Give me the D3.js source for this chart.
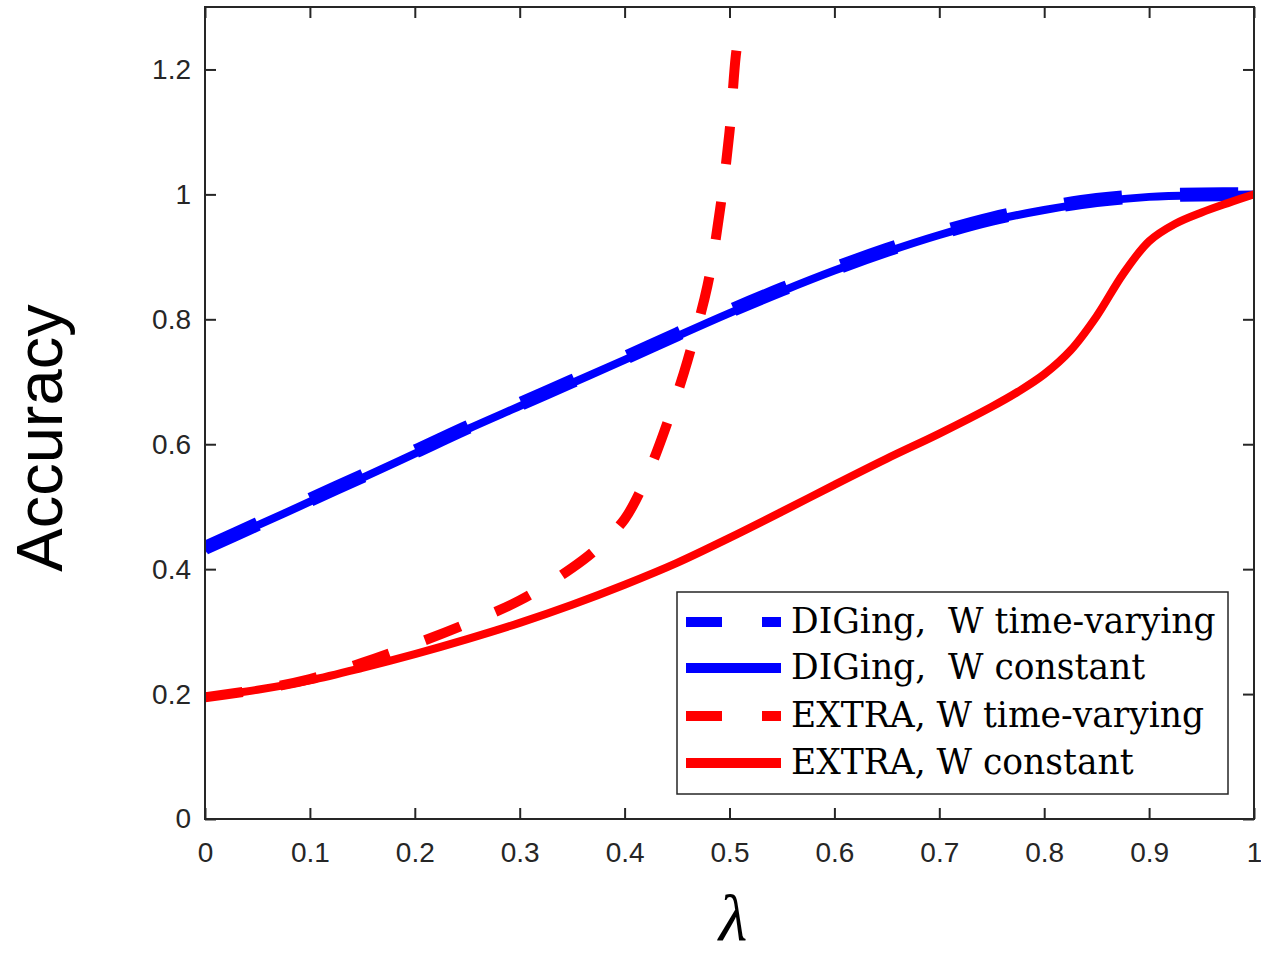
<!DOCTYPE html>
<html>
<head>
<meta charset="utf-8">
<script src="https://cdn.jsdelivr.net/npm/d3@7"></script>
<style>
  body { margin: 0; background: #fff; }
  svg { display: block; }
  .tick text { font-family: "Liberation Sans", Arial, sans-serif; font-size: 28px; fill: #262626; }
  .axis path { display: none; }
  .axis line { stroke: #262626; stroke-width: 2px; }
</style>
</head>
<body>
<div id="chart"></div>
<script>
// lambda values and accuracy
var lamBlue = [0, 0.05, 0.1, 0.15, 0.2, 0.25, 0.3, 0.35, 0.4, 0.45, 0.5, 0.55, 0.6, 0.65, 0.7, 0.75, 0.8, 0.85, 0.9, 0.95, 1];
var digingConst = [0.432, 0.47, 0.508, 0.546, 0.585, 0.624, 0.661, 0.698, 0.735, 0.773, 0.81, 0.845, 0.878, 0.908, 0.935, 0.958, 0.975, 0.988, 0.996, 0.999, 1.0];
var digingVar = [0.434, 0.472, 0.511, 0.549, 0.588, 0.627, 0.664, 0.701, 0.738, 0.776, 0.813, 0.848, 0.881, 0.911, 0.938, 0.961, 0.978, 0.991, 0.998, 1.0, 1.0];

var lamExtraConst = [0, 0.05, 0.1, 0.15, 0.2, 0.25, 0.3, 0.35, 0.4, 0.45, 0.5, 0.55, 0.6, 0.65, 0.7, 0.75, 0.775, 0.8, 0.825, 0.85, 0.875, 0.9, 0.925, 0.95, 0.975, 1];
var extraConst = [0.195, 0.207, 0.222, 0.242, 0.264, 0.288, 0.314, 0.343, 0.375, 0.41, 0.45, 0.492, 0.535, 0.577, 0.617, 0.66, 0.684, 0.712, 0.75, 0.805, 0.872, 0.925, 0.953, 0.971, 0.986, 1.0];

var lamExtraVar = [0, 0.05, 0.1, 0.15, 0.2, 0.25, 0.3, 0.35, 0.375, 0.4, 0.415, 0.43, 0.445, 0.46, 0.479, 0.491, 0.5, 0.506, 0.509];
var extraVar = [0.195, 0.207, 0.224, 0.25, 0.28, 0.313, 0.35, 0.402, 0.435, 0.48, 0.525, 0.585, 0.655, 0.734, 0.854, 0.976, 1.1, 1.222, 1.256];

var xTicks = [0, 0.1, 0.2, 0.3, 0.4, 0.5, 0.6, 0.7, 0.8, 0.9, 1];
var yTicks = [0, 0.2, 0.4, 0.6, 0.8, 1, 1.2];

var legendLabels = ["DIGing,  W time-varying", "DIGing,  W constant", "EXTRA, W time-varying", "EXTRA, W constant"];

var totalW = 1261, totalH = 955;
var margin = { top: 7, right: 7, bottom: 136, left: 205 };
var width = totalW - margin.left - margin.right,
	height = totalH - margin.top - margin.bottom;

var svg = d3.select("#chart").append("svg")
	.attr("width", totalW)
	.attr("height", totalH);

var g = svg.append("g")
	.attr("transform", "translate(" + margin.left + "," + margin.top + ")");

var xScale = d3.scaleLinear().domain([0, 1]).range([0, width]);
var yScale = d3.scaleLinear().domain([0, 1.3]).range([height, 0]);

var fmt = function(d) { return d3.format("~g")(d); };

// axes, ticks pointing inward like matlab
g.append("g")
	.attr("class", "x axis")
	.attr("transform", "translate(0," + height + ")")
	.call(d3.axisBottom(xScale).tickValues(xTicks).tickSizeInner(-11).tickSizeOuter(0).tickPadding(23).tickFormat(fmt));

g.append("g")
	.attr("class", "x axis top")
	.call(d3.axisTop(xScale).tickValues(xTicks).tickSizeInner(-11).tickSizeOuter(0).tickFormat(""));

g.append("g")
	.attr("class", "y axis")
	.call(d3.axisLeft(yScale).tickValues(yTicks).tickSizeInner(-11).tickSizeOuter(0).tickPadding(14).tickFormat(fmt));

g.append("g")
	.attr("class", "y axis right")
	.attr("transform", "translate(" + width + ",0)")
	.call(d3.axisRight(yScale).tickValues(yTicks).tickSizeInner(-11).tickSizeOuter(0).tickFormat(""));

g.selectAll(".x.axis .tick text").attr("dy", "0.71em");

svg.append("clipPath")
	.attr("id", "plot-clip")
	.append("rect")
	.attr("x", 0)
	.attr("y", 0)
	.attr("width", width)
	.attr("height", height);

var line = d3.line()
	.x(function(d) { return xScale(d[0]); })
	.y(function(d) { return yScale(d[1]); })
	.curve(d3.curveCatmullRom.alpha(0.5));

var series = [
	{ xs: lamBlue, ys: digingConst, color: "#0000ff", width: 8, dash: null },
	{ xs: lamBlue, ys: digingVar, color: "#0000ff", width: 14, dash: "58,58" },
	{ xs: lamExtraConst, ys: extraConst, color: "#ff0000", width: 8, dash: null },
	{ xs: lamExtraVar, ys: extraVar, color: "#ff0000", width: 10, dash: "38,38" }
];

var plot = g.append("g").attr("clip-path", "url(#plot-clip)");

series.forEach(function(s) {
	var pts = s.xs.map(function(x, i) { return [x, s.ys[i]]; });
	plot.append("path")
		.attr("d", line(pts))
		.style("fill", "none")
		.style("stroke", s.color)
		.style("stroke-width", s.width)
		.style("stroke-dasharray", s.dash);
});

// box
g.append("rect")
	.attr("x", 0)
	.attr("y", 0)
	.attr("width", width)
	.attr("height", height)
	.style("fill", "none")
	.style("stroke", "#262626")
	.style("stroke-width", 2);

// axis labels
svg.append("text")
	.attr("transform", "translate(62,438) rotate(-90)")
	.style("text-anchor", "middle")
	.style("font-family", "'Liberation Sans', Arial, sans-serif")
	.style("font-size", "65px")
	.style("fill", "#000")
	.text("Accuracy");

svg.append("text")
	.attr("x", 733)
	.attr("y", 940)
	.style("text-anchor", "middle")
	.style("font-family", "'Liberation Serif', 'Times New Roman', serif")
	.style("font-style", "italic")
	.style("font-size", "66px")
	.style("fill", "#000")
	.text("λ");

// legend
var legend = svg.append("g").attr("transform", "translate(677,592)");

legend.append("rect")
	.attr("width", 551)
	.attr("height", 202)
	.style("fill", "#fff")
	.style("stroke", "#262626")
	.style("stroke-width", 1.5);

var legendStyle = [
	{ color: "#0000ff", dash: "36,40" },
	{ color: "#0000ff", dash: null },
	{ color: "#ff0000", dash: "36,40" },
	{ color: "#ff0000", dash: null }
];

var rowY = [30, 76, 124, 171];

legendLabels.forEach(function(label, i) {
	var row = legend.append("g").attr("transform", "translate(0," + rowY[i] + ")");
	row.append("line")
		.attr("x1", 9)
		.attr("x2", 104)
		.attr("y1", 0)
		.attr("y2", 0)
		.style("stroke", legendStyle[i].color)
		.style("stroke-width", 10)
		.style("stroke-dasharray", legendStyle[i].dash);
	row.append("text")
		.attr("x", 114)
		.attr("y", 11)
		.style("font-family", "'DejaVu Serif', serif")
		.style("font-size", "34.5px")
		.style("fill", "#000")
		.style("white-space", "pre")
		.text(label);
});
</script>
</body>
</html>
